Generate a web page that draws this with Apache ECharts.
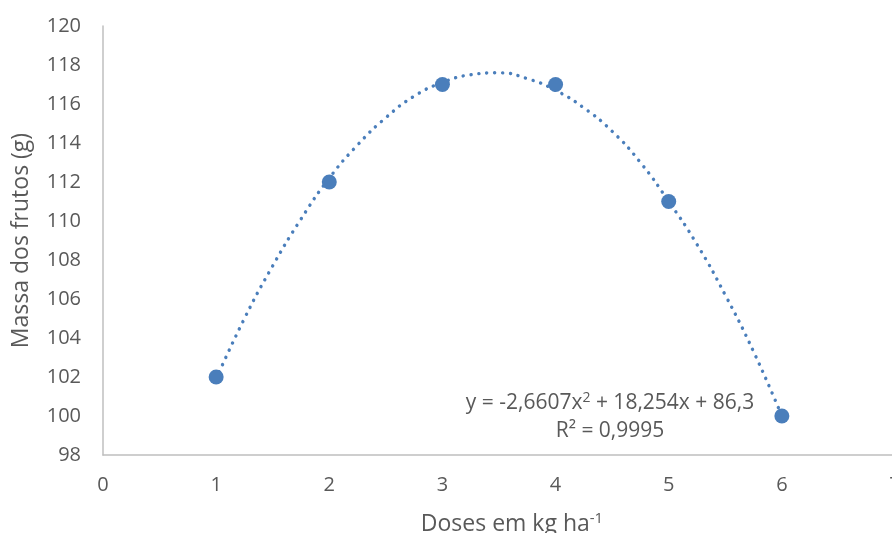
<!DOCTYPE html>
<html><head><meta charset="utf-8">
<script src="https://cdn.jsdelivr.net/npm/echarts@6/dist/echarts.min.js"></script>
<style>html,body{margin:0;padding:0;background:#fff}#c{width:892px;height:533px}</style>
</head><body><div id="c"></div>
<script>
// observed points
const doses = [1, 2, 3, 4, 5, 6];
const massa = [102, 112, 117, 117, 111, 100];
// trend curve
const trendX = [1, 1.25, 1.5, 1.75, 2, 2.25, 2.5, 2.75, 3, 3.25, 3.5, 3.75, 4, 4.25, 4.5, 4.75, 5, 5.25, 5.5, 5.75, 6];
const trendY = [101.9, 105.0, 107.7, 110.1, 112.2, 113.9, 115.3, 116.4, 117.1, 117.5, 117.6, 117.3, 116.7, 115.8, 114.6, 113.0, 111.0, 108.8, 106.2, 103.3, 100.0];
const eqLine1a = 'y = -2,6607x';
const eqLine1b = ' + 18,254x + 86,3';
const eqLine2 = 'R² = 0,9995';

const txt = '#595959';
const font = 'Open Sans';
const chart = echarts.init(document.getElementById('c'));
chart.setOption({
  animation: false,
  grid: {left: 103, right: -3, top: 26, bottom: 78, containLabel: false, outerBoundsMode: 'none'},
  xAxis: {
    type: 'value', min: 0, max: 7, interval: 1,
    axisLine: {lineStyle: {color: '#bfbfbf', width: 1.5}},
    axisTick: {show: false}, splitLine: {show: false},
    axisLabel: {color: txt, fontFamily: font, fontSize: 20, margin: 20, hideOverlap: false},
    name: '{a|Doses em kg ha}{s|-1}', nameLocation: 'middle', nameGap: 56,
    nameTextStyle: {color: txt, fontFamily: font, fontSize: 23, padding: [0, 0, 0, 26],
      rich: {a: {fontSize: 23, color: txt, fontFamily: font},
             s: {fontSize: 15, color: txt, fontFamily: font, verticalAlign: 'top', padding: [0,0,12,0]}}}
  },
  yAxis: {
    type: 'value', min: 98, max: 120, interval: 2,
    axisLine: {show: true, lineStyle: {color: '#bfbfbf', width: 1.5}},
    axisTick: {show: false}, splitLine: {show: false},
    axisLabel: {color: txt, fontFamily: font, fontSize: 20, margin: 22},
    name: 'Massa dos frutos (g)', nameLocation: 'middle', nameGap: 70,
    nameTextStyle: {color: txt, fontFamily: font, fontSize: 23}
  },
  series: [
    {
      type: 'line', smooth: true, symbol: 'none',
      data: trendX.map((x, i) => [x, trendY[i]]),
      lineStyle: {color: '#4a7ebb', width: 3.4, type: [0.1, 7.8], cap: 'round'},
      z: 1
    },
    {
      type: 'scatter', symbol: 'circle', symbolSize: 15,
      data: doses.map((x, i) => [x, massa[i]]),
      itemStyle: {color: '#4a7ebb', opacity: 1}, z: 2
    }
  ],
  graphic: [
    {type: 'text', x: 610, y: 403, style: {
      text: '{a|' + eqLine1a + '}{s|2}{a|' + eqLine1b + '}',
      align: 'center', verticalAlign: 'middle',
      rich: {a: {fontFamily: font, fontSize: 21, fill: txt},
             s: {fontFamily: font, fontSize: 14, fill: txt, verticalAlign: 'top', padding: [0,0,10,0]}}
    }},
    {type: 'text', x: 610, y: 431, style: {text: eqLine2, align: 'center', verticalAlign: 'middle', fontFamily: font, fontSize: 21, fill: txt}}
  ]
});
</script></body></html>
